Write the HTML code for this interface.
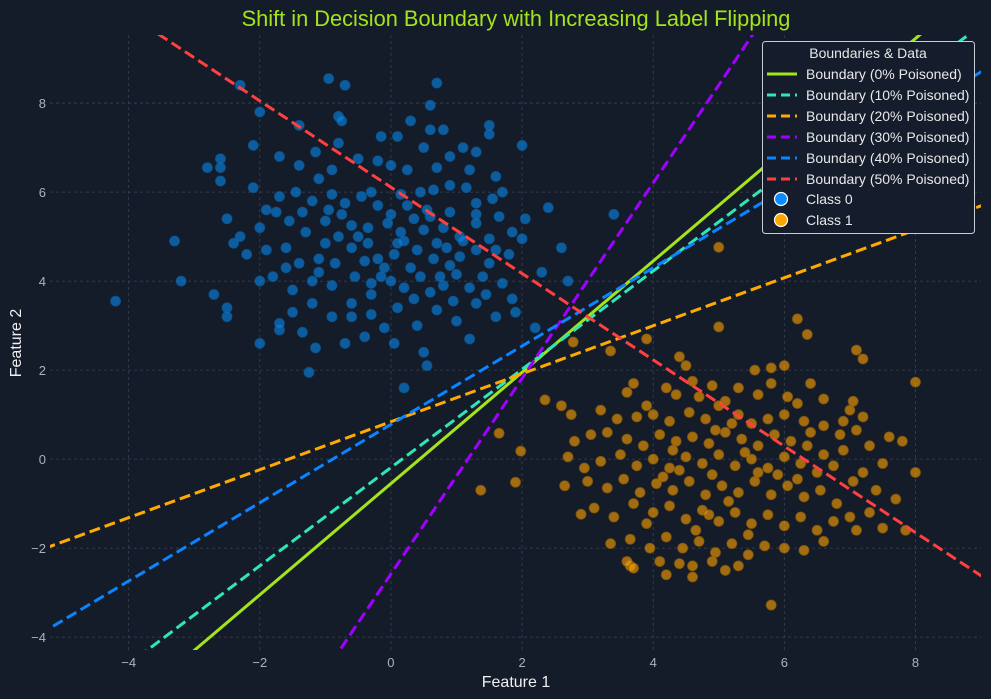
<!DOCTYPE html>
<html><head><meta charset="utf-8"><style>
html,body{margin:0;padding:0;background:#141b29;overflow:hidden;width:991px;height:699px;}
svg{display:block;font-family:"Liberation Sans",sans-serif;}
</style></head><body>
<svg id="chart" width="991" height="699" viewBox="0 0 991 699">
<rect width="991" height="699" fill="#141b29"/>
<defs><clipPath id="pc"><rect x="50" y="35" width="931" height="615"/></clipPath></defs>
<g id="grid"></g>
<g id="ticks"></g>
<g id="points" clip-path="url(#pc)"></g>
<g id="lines" clip-path="url(#pc)"></g>
<text x="516" y="26" text-anchor="middle" font-size="21.8" fill="#a3e41a">Shift in Decision Boundary with Increasing Label Flipping</text>
<text x="516" y="687" text-anchor="middle" font-size="16" fill="#f0f0f0">Feature 1</text>
<text x="21" y="343" text-anchor="middle" font-size="16" fill="#f0f0f0" transform="rotate(-90 21 343)">Feature 2</text>
<g id="legend">
<rect x="762.5" y="41.5" width="212" height="192" rx="3" fill="#151c2b" stroke="#c8ccd4" stroke-width="1"/>
<text x="868" y="58" text-anchor="middle" font-size="14" fill="#e8e8e8">Boundaries &amp; Data</text>
</g>
</svg>
<script>
const xTicks=[-4,-2,0,2,4,6,8];
const yTicks=[-4,-2,0,2,4,6,8];
const lineNames=["Boundary (0% Poisoned)","Boundary (10% Poisoned)","Boundary (20% Poisoned)","Boundary (30% Poisoned)","Boundary (40% Poisoned)","Boundary (50% Poisoned)"];
const lineSlopes=[1.25,1.104,0.539,2.197,0.880,-0.970];
const lineIntercepts=[-0.55,-0.19,0.84,-2.58,0.78,6.11];
const lineColors=["#a3e41a","#2ee6b8","#ffaa00","#a000ff","#0a84ff","#ff4040"];
const class0=[[-4.2,3.55],[-3.3,4.9],[-3.2,4.0],[-2.7,3.7],[-2.5,3.4],[-2.5,3.2],[-2.0,2.6],[-1.7,2.9],[-1.25,1.95],[-1.15,2.5],[-1.35,2.85],[-0.4,2.75],[0.2,1.6],[-0.6,3.2],[0.55,2.1],
[-0.95,8.55],[-0.7,8.4],[0.7,8.45],[0.6,7.95],[-2.3,8.4],[-2.0,7.8],[-2.1,7.05],[-1.7,6.8],[-0.8,7.7],[-0.75,7.6],[-0.5,6.75],[-2.6,6.25],[-2.6,6.75],[-2.6,6.55],[-2.8,6.55],
[-1.4,7.5],[0.3,7.6],[1.5,7.5],[1.5,7.3],[2.0,7.05],[0.1,7.25],[0.8,7.4],[0.6,7.4],[-0.15,7.25],[1.1,7.0],[0.5,7.0],
[-0.8,7.1],[-1.15,6.9],[0.9,6.8],[1.3,6.9],[1.2,6.5],[1.6,6.35],[0.0,6.6],[-0.2,6.7],[0.25,6.5],[0.7,6.55],[-1.1,6.3],[-0.9,6.5],[-1.4,6.6],
[-2.1,6.1],[-1.7,5.9],[-1.45,6.0],[-0.9,5.95],[-0.45,5.9],[-0.3,6.0],[0.15,5.95],[0.45,6.0],[0.65,6.05],[0.9,6.15],[1.15,6.1],[1.3,5.75],[1.55,5.85],[1.7,6.0],[-1.2,5.8],[-0.7,5.75],[-0.2,5.7],[0.55,5.6],[0.9,5.55],[1.3,5.5],[1.65,5.45],[2.05,5.4],
[-2.5,5.4],[-2.3,5.0],[-2.0,5.2],[-1.9,5.6],[-1.75,5.55],[-1.55,5.35],[-1.35,5.55],[-1.3,5.1],[-1.0,5.35],[-0.75,5.5],[-0.6,5.25],[-0.35,5.2],[-0.05,5.3],[0.15,5.1],[0.35,5.4],[0.6,5.45],[0.8,5.2],[1.05,5.0],[1.3,5.3],[1.5,4.95],[1.85,5.1],[-2.4,4.85],[-2.2,4.6],
[-1.9,4.7],[-1.6,4.75],[-1.4,4.4],[-1.1,4.5],[-0.85,4.4],[-0.6,4.75],[-0.35,4.85],[-0.2,4.5],[0.05,4.6],[0.2,4.9],[0.4,4.7],[0.65,4.5],[0.85,4.75],[1.05,4.55],[1.3,4.7],[1.5,4.4],[1.8,4.6],[2.0,4.95],[2.3,4.2],[-1.0,4.85],[-0.8,5.0],
[-2.0,4.0],[-1.8,4.1],[-1.5,3.8],[-1.2,4.0],[-0.9,3.9],[-0.55,4.1],[-0.3,3.7],[0.0,4.0],[0.2,3.85],[0.45,4.1],[0.6,3.75],[0.8,3.9],[1.0,4.15],[1.2,3.85],[1.45,3.7],[1.7,3.95],[1.85,3.6],[-0.1,4.3],[0.3,4.3],[0.9,4.35],
[-1.5,3.3],[-1.2,3.5],[-0.9,3.2],[-0.6,3.5],[-0.3,3.25],[0.1,3.4],[0.4,3.0],[0.7,3.35],[1.0,3.1],[1.3,3.5],[1.6,3.2],[1.9,3.3],[2.2,2.95],[-0.1,2.95],[1.2,2.7],[0.5,2.4],[-0.7,2.6],[-1.7,3.05],[0.05,2.6],[3.4,5.5],[2.4,5.65],[2.6,4.75],[2.7,4.0],
[-0.5,5.0],[0.1,4.85],[0.5,5.15],[-0.15,4.1],[0.35,3.6],[-1.1,4.2],[1.1,4.9],[0.75,4.1],[-0.4,4.45],[0.0,5.5],[1.4,4.1],[-1.6,4.3],[0.25,5.7],[-0.95,5.6],[0.7,4.85],[1.6,4.7],[-0.3,3.95],[0.95,3.55]];
const class1=[[5.0,4.76],[5.0,2.97],[6.2,3.15],[6.35,2.8],[7.1,2.45],[7.2,2.25],[8.0,1.73],[8.0,-0.3],[5.8,-3.28],[2.78,2.63],[3.35,2.43],[3.9,2.7],[2.35,1.33],[1.65,0.58],[1.98,0.18],[1.9,-0.52],[1.37,-0.7],[2.9,-1.24],[3.65,-2.4],
[4.4,2.3],[4.5,2.1],[5.55,2.0],[5.8,2.05],[6.0,2.1],[4.6,1.75],[4.2,1.6],[3.7,1.7],[3.6,1.5],[3.9,1.2],[4.35,1.45],[5.1,1.3],[5.6,1.45],[5.8,1.7],[6.05,1.4],[6.2,1.25],[6.4,1.7],[7.0,1.1],[7.2,0.95],[6.9,0.85],[7.6,0.5],[7.8,0.4],
[2.6,1.2],[2.75,1.0],[3.2,1.1],[3.45,0.9],[3.75,0.95],[4.0,1.0],[4.25,0.85],[4.55,1.05],[4.8,0.9],[5.0,1.2],[5.3,1.0],[5.5,0.8],[5.75,0.9],[6.0,1.0],[6.3,0.85],[6.6,0.75],[6.85,0.55],[7.1,0.65],
[2.8,0.4],[3.05,0.55],[3.3,0.6],[3.6,0.45],[3.85,0.3],[4.1,0.55],[4.35,0.4],[4.6,0.5],[4.85,0.35],[5.1,0.6],[5.35,0.45],[5.6,0.3],[5.85,0.55],[6.1,0.4],[6.35,0.3],[6.6,0.1],[6.9,0.2],[7.3,0.3],[7.5,-0.1],[7.2,-0.3],
[2.7,0.05],[2.95,-0.2],[3.2,-0.05],[3.5,0.1],[3.75,-0.15],[4.0,0.0],[4.25,-0.2],[4.5,0.05],[4.75,-0.1],[5.0,0.1],[5.25,-0.15],[5.5,0.0],[5.75,-0.2],[6.0,0.05],[6.25,-0.1],[6.5,-0.3],[6.75,-0.15],[7.05,-0.5],[7.4,-0.7],
[2.65,-0.6],[3.0,-0.5],[3.3,-0.65],[3.55,-0.45],[3.8,-0.75],[4.05,-0.55],[4.3,-0.7],[4.55,-0.5],[4.8,-0.8],[5.05,-0.6],[5.3,-0.75],[5.55,-0.5],[5.8,-0.8],[6.05,-0.6],[6.3,-0.85],[6.55,-0.7],[6.8,-1.0],[7.0,-1.3],[7.3,-1.2],[7.7,-0.9],
[3.1,-1.1],[3.4,-1.3],[3.7,-1.0],[4.0,-1.2],[4.25,-1.05],[4.5,-1.35],[4.75,-1.15],[5.0,-1.4],[5.25,-1.2],[5.5,-1.45],[5.75,-1.25],[6.0,-1.5],[6.25,-1.3],[6.5,-1.6],[6.75,-1.4],[7.1,-1.6],[7.5,-1.55],[7.85,-1.6],
[3.35,-1.9],[3.65,-1.8],[3.95,-2.0],[4.2,-1.75],[4.45,-2.0],[4.7,-1.85],[4.95,-2.1],[5.2,-1.9],[5.45,-2.15],[5.7,-1.95],[6.0,-2.0],[6.3,-2.05],[6.6,-1.85],[3.6,-2.3],[4.1,-2.3],[4.4,-2.35],[4.6,-2.4],[4.9,-2.3],[5.1,-2.5],[5.3,-2.4],[4.2,-2.6],[4.6,-2.65],[3.7,-2.45],
[4.7,1.4],[4.9,1.65],[5.3,1.6],[6.6,1.35],[7.05,1.3],[5.4,0.15],[4.9,-0.35],[5.9,-0.35],[4.4,-0.25],
[4.15,-0.4],[5.15,-0.95],[4.65,-1.6],[5.6,-0.3],[4.3,0.2],[5.2,0.8],[6.2,-0.45],[4.85,-1.25],[5.45,-1.7],[3.9,-1.45],[6.4,0.6],[4.95,0.65]];

const NS="http://www.w3.org/2000/svg";
const X0=50,X1=981,Y0=35,Y1=650;
const xMin=-5.2,xMax=9.0,yMin=-4.29,yMax=9.53;
function sx(v){return X0+(v-xMin)/(xMax-xMin)*(X1-X0);}
function sy(v){return Y1-(v-yMin)/(yMax-yMin)*(Y1-Y0);}
function mk(tag,attrs,parent){const e=document.createElementNS(NS,tag);for(const k in attrs)e.setAttribute(k,attrs[k]);parent.appendChild(e);return e;}
const grid=document.getElementById('grid'),ticks=document.getElementById('ticks');
xTicks.forEach(t=>{
  const l=mk('line',{x1:sx(t),x2:sx(t),y1:Y0,y2:Y1,stroke:'#3b4354','stroke-width':0.8,'stroke-dasharray':'3,3'},grid);
  
  
  const tx=mk('text',{x:sx(t),y:Y1+17,'text-anchor':'middle','font-size':13,fill:'#aab2c0'},ticks);
  tx.textContent=(t<0?'\u2212'+(-t):String(t));
  
  
});
yTicks.forEach(t=>{
  const l=mk('line',{x1:X0,x2:X1,y1:sy(t),y2:sy(t),stroke:'#3b4354','stroke-width':0.8,'stroke-dasharray':'3,3'},grid);
  
  
  const tx=mk('text',{x:X0-4,y:sy(t)+5,'text-anchor':'end','font-size':13,fill:'#aab2c0'},ticks);
  tx.textContent=(t<0?'\u2212'+(-t):String(t));
  
  
});
const pts=document.getElementById('points');
class0.forEach(p=>{
  const c=mk('circle',{cx:sx(p[0]),cy:sy(p[1]),r:5,fill:'#0789ec','fill-opacity':0.6,stroke:'#0a5fa0','stroke-opacity':0.6,'stroke-width':1},pts);
  
  
});
class1.forEach(p=>{
  const c=mk('circle',{cx:sx(p[0]),cy:sy(p[1]),r:5,fill:'#ffa500','fill-opacity':0.6,stroke:'#8a5a08','stroke-opacity':0.7,'stroke-width':1},pts);
  
  
});
const lines=document.getElementById('lines');
lineSlopes.forEach((m,i)=>{
  const b=lineIntercepts[i];
  const a={x1:sx(xMin-1),y1:sy(m*(xMin-1)+b),x2:sx(xMax+1),y2:sy(m*(xMax+1)+b),stroke:lineColors[i],'stroke-width':3};
  if(i>0)a['stroke-dasharray']='11,5';
  const l=mk('line',a,lines);
  
  
});
const lg=document.getElementById('legend');
lineNames.forEach((n,i)=>{
  const y=74+i*21;
  const a={x1:767,x2:797,y1:y,y2:y,stroke:lineColors[i],'stroke-width':3};
  if(i>0)a['stroke-dasharray']='9,5';
  const l=mk('line',a,lg);
  
  
  const t=mk('text',{x:806,y:y+5,'font-size':14,fill:'#e8e8e8'},lg);
  t.textContent=n;
  
  
});
[['Class 0','#0a8cff'],['Class 1','#ffa500']].forEach((c,i)=>{
  const y=199+i*21;
  const m=mk('circle',{cx:781,cy:y,r:6.5,fill:c[1],stroke:'#ffffff','stroke-width':1.2},lg);
  
  
  const t=mk('text',{x:806,y:y+5,'font-size':14,fill:'#e8e8e8'},lg);
  t.textContent=c[0];
  
  
});
</script>
</body></html>
